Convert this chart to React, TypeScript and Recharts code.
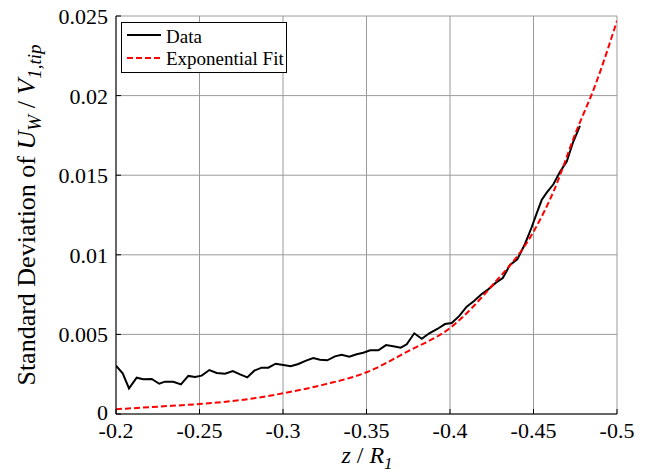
import React from 'react';
import { LineChart, Line, XAxis, YAxis, CartesianGrid, Legend } from 'recharts';

const FONT = "'Liberation Serif', Tinos, 'Times New Roman', 'DejaVu Serif', serif";

// Measured data: z / R1 and standard deviation of U_W / V_1,tip
const dataZ = [
  -0.2, -0.204, -0.2078, -0.2124, -0.2163, -0.2214, -0.2259, -0.2293, -0.2343, -0.2389,
  -0.2433, -0.2473, -0.2513, -0.2559, -0.2603, -0.2653, -0.2699, -0.2743, -0.2786, -0.2828,
  -0.2872, -0.2912, -0.2956, -0.3002, -0.3046, -0.3092, -0.3138, -0.3181, -0.3222, -0.3265,
  -0.3311, -0.3351, -0.3397, -0.3441, -0.3481, -0.3522, -0.3571, -0.3617, -0.366, -0.3705,
  -0.3741, -0.3786, -0.3831, -0.3876, -0.3924, -0.397, -0.401, -0.4056, -0.41, -0.4144,
  -0.419, -0.4229, -0.4275, -0.4316, -0.4359, -0.4403, -0.4449, -0.4489, -0.4519, -0.4549,
  -0.4579, -0.4619, -0.4659, -0.4699, -0.4738, -0.4778,
];
const dataStd = [
  0.00303, 0.00256, 0.00161, 0.00228, 0.00218, 0.0022, 0.0019, 0.00203, 0.00203, 0.00186,
  0.00239, 0.00232, 0.00241, 0.00276, 0.00258, 0.00253, 0.0027, 0.00249, 0.0023, 0.00272,
  0.00291, 0.00291, 0.00316, 0.00308, 0.003, 0.00314, 0.00335, 0.00352, 0.00341, 0.00337,
  0.00362, 0.00372, 0.0036, 0.00375, 0.00385, 0.004, 0.004, 0.00433, 0.00425, 0.00417,
  0.00438, 0.00507, 0.00473, 0.00507, 0.00534, 0.00565, 0.00572, 0.00616, 0.00674, 0.0071,
  0.00754, 0.00783, 0.00825, 0.00854, 0.00936, 0.00972, 0.01068, 0.01173, 0.0126, 0.01344,
  0.0139, 0.01443, 0.01522, 0.01585, 0.0171, 0.0181,
];

// Exponential fit curve
const fitZ = [-0.2, -0.225, -0.25, -0.275, -0.3, -0.325, -0.35, -0.375, -0.4, -0.425, -0.45, -0.4625, -0.475, -0.4875, -0.5];
const fitStd = [0.0003, 0.00046, 0.00063, 0.00088, 0.0013, 0.00186, 0.00262, 0.00395, 0.0054, 0.00804, 0.01145, 0.0141, 0.0176, 0.0208, 0.0247];

const xTicks = [-0.2, -0.25, -0.3, -0.35, -0.4, -0.45, -0.5];
const xTickLabels = ['-0.2', '-0.25', '-0.3', '-0.35', '-0.4', '-0.45', '-0.5'];
const yTicks = [0, 0.005, 0.01, 0.015, 0.02, 0.025];
const yTickLabels = ['0', '0.005', '0.01', '0.015', '0.02', '0.025'];

const dataRows = dataZ.map((z, i) => ({ z, std: dataStd[i] }));
const fitRows = fitZ.map((z, i) => ({ z, fit: fitStd[i] }));

const lookup = (ticks: number[], labels: string[], v: number) => {
  const i = ticks.findIndex((t) => Math.abs(t - v) < 1e-9);
  return i >= 0 ? labels[i] : String(v);
};

const txt = { fontFamily: FONT } as React.CSSProperties;

const BottomTick = (props: any) => {
  const { x, y, payload } = props;
  return (
    <g>
      <line x1={x} y1={y} x2={x} y2={y - 5} stroke="#000" strokeWidth={1} />
      <text x={x} y={y + 24} textAnchor="middle" fontSize={22} style={txt} fill="#000">
        {lookup(xTicks, xTickLabels, payload.value)}
      </text>
    </g>
  );
};

const TopTick = (props: any) => {
  const { x, y } = props;
  return <line x1={x} y1={y} x2={x} y2={y + 5} stroke="#000" strokeWidth={1} />;
};

const LeftTick = (props: any) => {
  const { x, y, payload } = props;
  const isZero = Math.abs(payload.value) < 1e-12;
  return (
    <g>
      <line x1={x} y1={y} x2={x + 5} y2={y} stroke="#000" strokeWidth={1} />
      <text x={x - 8} y={y + (isZero ? 6 : 8)} textAnchor="end" fontSize={22} style={txt} fill="#000">
        {lookup(yTicks, yTickLabels, payload.value)}
      </text>
    </g>
  );
};

const RightTick = (props: any) => {
  const { x, y } = props;
  return <line x1={x} y1={y} x2={x - 5} y2={y} stroke="#000" strokeWidth={1} />;
};

const YTitle = () => (
  <text transform="rotate(-90)" x={-215} y={35} textAnchor="middle" fontSize={26} style={txt} fill="#000">
    {'Standard Deviation of '}
    <tspan fontStyle="italic">U</tspan>
    <tspan fontStyle="italic" fontSize={19} dy={6}>W</tspan>
    <tspan dy={-6}>{' / '}</tspan>
    <tspan fontStyle="italic">V</tspan>
    <tspan fontStyle="italic" fontSize={19} dy={6}>1,tip</tspan>
  </text>
);

const XTitle = () => (
  <text x={367} y={463} textAnchor="middle" fontSize={24} style={txt} fill="#000">
    <tspan fontStyle="italic">z</tspan>
    <tspan>{' / '}</tspan>
    <tspan fontStyle="italic">R</tspan>
    <tspan fontStyle="italic" fontSize={17} dy={6}>1</tspan>
  </text>
);

const LegendBox = () => (
  <svg width={167} height={52} style={{ display: 'block' }}>
    <rect x={0.5} y={0.5} width={165} height={50} fill="#fff" stroke="#000" strokeWidth={1} />
    <line x1={6} y1={13} x2={40} y2={13} stroke="#000" strokeWidth={2} />
    <text x={45} y={21} fontSize={19} style={txt} fill="#000">Data</text>
    <line x1={6} y1={36} x2={40} y2={36} stroke="#ff0000" strokeWidth={2} strokeDasharray="6 3" />
    <text x={45} y={43} fontSize={19} style={txt} fill="#000">Exponential Fit</text>
  </svg>
);

export default function App() {
  return (
    <div style={{ position: 'absolute', left: 0, top: 0, width: 645, height: 473, background: '#fff', fontFamily: FONT }}>
      <LineChart width={645} height={473} margin={{ top: 16, right: 28, bottom: 0, left: 0 }} style={{ fontFamily: FONT }}>
        <CartesianGrid stroke="#9a9a9a" strokeWidth={1} horizontalValues={yTicks} verticalValues={xTicks} />
        <XAxis
          dataKey="z"
          type="number"
          domain={[-0.5, -0.2]}
          reversed
          ticks={xTicks}
          allowDataOverflow
          height={59}
          tickSize={0}
          tickMargin={0}
          tickLine={false}
          axisLine={{ stroke: '#000', strokeWidth: 1 }}
          tick={<BottomTick />}
          interval={0}
          label={<XTitle />}
        />
        <XAxis
          xAxisId="top"
          orientation="top"
          type="number"
          domain={[-0.5, -0.2]}
          reversed
          ticks={xTicks}
          allowDataOverflow
          height={0}
          tickSize={0}
          tickMargin={0}
          tickLine={false}
          axisLine={{ stroke: '#000', strokeWidth: 1 }}
          tick={<TopTick />}
          interval={0}
        />
        <YAxis
          type="number"
          domain={[0, 0.025]}
          ticks={yTicks}
          allowDataOverflow
          width={116}
          tickSize={0}
          tickMargin={0}
          tickLine={false}
          axisLine={{ stroke: '#000', strokeWidth: 1 }}
          tick={<LeftTick />}
          interval={0}
          label={<YTitle />}
        />
        <YAxis
          yAxisId="right"
          orientation="right"
          type="number"
          domain={[0, 0.025]}
          ticks={yTicks}
          allowDataOverflow
          width={0}
          tickSize={0}
          tickMargin={0}
          tickLine={false}
          axisLine={{ stroke: '#000', strokeWidth: 1 }}
          tick={<RightTick />}
          interval={0}
        />
        <Legend
          layout="vertical"
          align="center"
          verticalAlign="middle"
          content={<LegendBox />}
          wrapperStyle={{ position: 'absolute', left: 121, top: 22, width: 167, height: 52 }}
        />
        <Line
          data={dataRows}
          dataKey="std"
          name="Data"
          type="linear"
          stroke="#000"
          strokeWidth={2}
          dot={false}
          activeDot={false}
          isAnimationActive={false}
        />
        <Line
          data={fitRows}
          dataKey="fit"
          name="Exponential Fit"
          type="monotone"
          stroke="#ff0000"
          strokeWidth={2}
          strokeDasharray="6 3"
          dot={false}
          activeDot={false}
          isAnimationActive={false}
        />
      </LineChart>
    </div>
  );
}
